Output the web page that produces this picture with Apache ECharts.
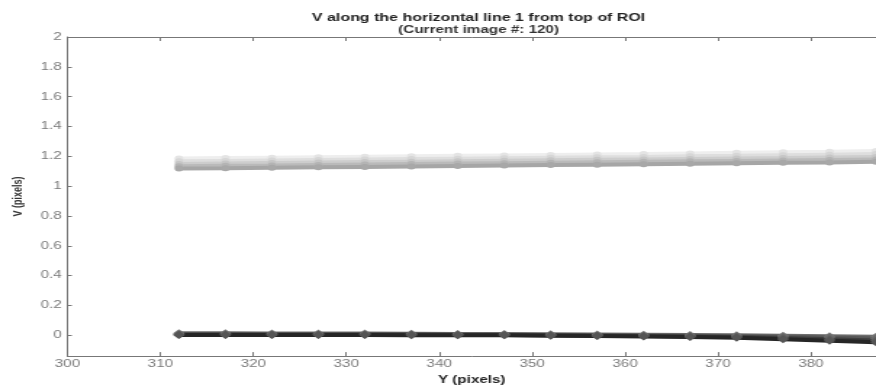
<!DOCTYPE html>
<html>
<head>
<meta charset="utf-8">
<script src="https://cdn.jsdelivr.net/npm/echarts@6/dist/echarts.min.js"></script>
<style>
html,body{margin:0;padding:0;background:#fff;overflow:hidden;width:876px;height:391px;}
/* the reference figure is stretched horizontally; draw narrower and stretch the same way */
#chart{width:604px;height:391px;transform:scaleX(1.45033);transform-origin:0 0;}
</style>
</head>
<body>
<div id="chart"></div>
<script>
// Data
var xValues = [312, 317, 322, 327, 332, 337, 342, 347, 352, 357, 362, 367, 372, 377, 382, 387];
var yTicks = [0, 0.2, 0.4, 0.6, 0.8, 1, 1.2, 1.4, 1.6, 1.8, 2];

var upperA = [1.185, 1.188, 1.191, 1.194, 1.197, 1.200, 1.203, 1.206, 1.209, 1.212, 1.215, 1.219, 1.223, 1.227, 1.231, 1.236];
var upperB = [1.166, 1.169, 1.172, 1.175, 1.178, 1.181, 1.184, 1.187, 1.190, 1.193, 1.196, 1.200, 1.203, 1.207, 1.211, 1.215];
var upperC = [1.149, 1.152, 1.155, 1.158, 1.161, 1.164, 1.167, 1.170, 1.173, 1.176, 1.179, 1.182, 1.185, 1.188, 1.192, 1.196];
var upperD = [1.134, 1.137, 1.139, 1.142, 1.145, 1.148, 1.151, 1.154, 1.157, 1.160, 1.163, 1.166, 1.169, 1.172, 1.175, 1.178];
var upperE = [1.118, 1.120, 1.123, 1.126, 1.129, 1.132, 1.135, 1.138, 1.141, 1.144, 1.147, 1.150, 1.153, 1.156, 1.159, 1.163];

var lowerA = [0.014, 0.013, 0.012, 0.011, 0.011, 0.010, 0.009, 0.008, 0.007, 0.005, 0.003, 0.001, -0.001, -0.004, -0.007, -0.010];
var lowerB = [0.008, 0.008, 0.007, 0.007, 0.006, 0.006, 0.005, 0.004, 0.002, 0.000, -0.002, -0.004, -0.007, -0.011, -0.016, -0.022];
var lowerC = [0.004, 0.004, 0.004, 0.003, 0.003, 0.003, 0.002, 0.001, -0.001, -0.003, -0.005, -0.008, -0.012, -0.019, -0.027, -0.035];
var lowerD = [0.001, 0.001, 0.001, 0.001, 0.001, 0.000, 0.000, -0.001, -0.003, -0.005, -0.008, -0.012, -0.017, -0.027, -0.037, -0.047];

var seriesDefs = [
  {data: upperA, color: '#eeeeee', mark: '#e4e4e4', sym: 'circle'},
  {data: upperB, color: '#dedede', mark: '#d6d6d6', sym: 'circle'},
  {data: upperC, color: '#cdcdcd', mark: '#c6c6c6', sym: 'circle'},
  {data: upperD, color: '#bababa', mark: '#b4b4b4', sym: 'circle'},
  {data: upperE, color: '#a6a6a6', mark: '#a8a8a8', sym: 'circle'},
  {data: lowerA, color: '#6e6e6e', mark: '#777777', sym: 'diamond'},
  {data: lowerB, color: '#585858', mark: '#6a6a6a', sym: 'diamond'},
  {data: lowerC, color: '#3e3e3e', mark: '#5e5e5e', sym: 'diamond'},
  {data: lowerD, color: '#262626', mark: '#555555', sym: 'diamond'}
];

var FONT = 'Liberation Sans';
var chart = echarts.init(document.getElementById('chart'), null, {renderer: 'canvas', width: 604, height: 391});

var series = seriesDefs.map(function (d) {
  return {
    type: 'line',
    data: xValues.map(function (x, i) { return [x, d.data[i]]; }),
    symbol: d.sym,
    symbolSize: d.sym === 'diamond' ? 8 : 6,
    showSymbol: true,
    lineStyle: {color: d.color, width: 4},
    itemStyle: {color: d.mark},
    animation: false,
    z: 3
  };
});

chart.setOption({
  animation: false,
  title: [{
    text: 'V along the horizontal line 1 from top of ROI',
    left: 325,
    textAlign: 'center',
    top: 7,
    textStyle: {fontFamily: FONT, fontSize: 11, fontWeight: 'bold', color: '#222'}
  }, {
    text: '(Current image #: 120)',
    left: 325,
    textAlign: 'center',
    top: 20,
    textStyle: {fontFamily: FONT, fontSize: 10.5, fontWeight: 'bold', color: '#333'}
  }],
  grid: {left: 44.8, right: -1, top: 37, bottom: 26, containLabel: false},
  xAxis: [{
    type: 'value',
    min: 300, max: 387, interval: 10,
    position: 'bottom',
    name: 'Y (pixels)',
    nameLocation: 'middle',
    nameGap: 13,
    nameTextStyle: {fontFamily: FONT, fontSize: 10.5, fontWeight: 'bold', color: '#222'},
    axisLine: {show: true, onZero: false, lineStyle: {color: '#777', width: 1}},
    axisTick: {show: true, inside: true, length: 4, lineStyle: {color: '#777'}},
    axisLabel: {fontFamily: FONT, fontSize: 10.5, color: '#7a7a7a', margin: 3, showMaxLabel: false},
    splitLine: {show: false}
  }, {
    type: 'value',
    min: 300, max: 387, interval: 10,
    position: 'top',
    axisLine: {show: true, onZero: false, lineStyle: {color: '#777', width: 1}},
    axisTick: {show: true, inside: true, length: 4, lineStyle: {color: '#777'}},
    axisLabel: {show: false},
    splitLine: {show: false}
  }],
  yAxis: {
    type: 'value',
    min: -0.14, max: 2,
    name: 'V (pixels)',
    nameLocation: 'middle',
    nameGap: 23,
    nameTextStyle: {fontFamily: FONT, fontSize: 9, fontWeight: 'bold', color: '#333'},
    axisLine: {show: true, onZero: false, lineStyle: {color: '#777', width: 1}},
    axisLabel: {
      fontFamily: FONT, fontSize: 10.5, color: '#7a7a7a', margin: 4,
      customValues: yTicks,
      formatter: function (v) { return String(Math.round(v * 10) / 10); }
    },
    axisTick: {show: true, inside: true, length: 3, customValues: yTicks, lineStyle: {color: '#777'}},
    splitLine: {show: false}
  },
  series: series
});
</script>
</body>
</html>
